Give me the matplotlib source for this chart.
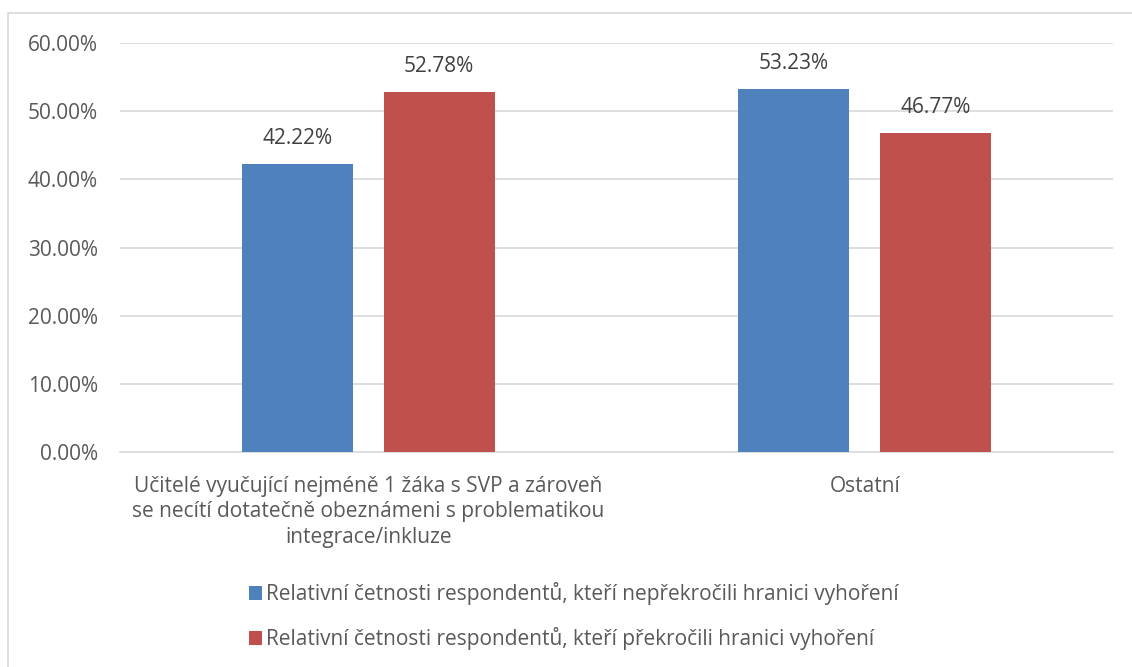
import matplotlib.pyplot as plt
from matplotlib.patches import Rectangle, Patch
from matplotlib.ticker import FuncFormatter

# data
categories = [
    "Učitelé vyučující nejméně 1 žáka s SVP a zároveň\nse necítí dotatečně obeznámeni s problematikou\nintegrace/inkluze",
    "Ostatní",
]
series_names = [
    "Relativní četnosti respondentů, kteří nepřekročili hranici vyhoření",
    "Relativní četnosti respondentů, kteří překročili hranici vyhoření",
]
not_exceeded = [42.22, 53.23]
exceeded = [52.78, 46.77]
colors = ["#4f81bd", "#c0504d"]

plt.rcParams['font.family'] = ['Open Sans', 'DejaVu Sans']

fig = plt.figure(figsize=(11.32, 6.67), dpi=100)
ax = fig.add_axes([120 / 1132, 1 - 452 / 667, 993 / 1132, 409 / 667 * 1.0])

# outer border like an Excel chart area
fig.patches.append(Rectangle((8 / 1132, -0.05), 1.1, 1 - 13 / 667 + 0.05,
                             transform=fig.transFigure, fill=False,
                             edgecolor="#d9d9d9", linewidth=1.2))

x = list(range(len(categories)))
width = 0.2236
offset = 0.143
b1 = ax.bar([i - offset for i in x], not_exceeded, width, color=colors[0], zorder=3)
b2 = ax.bar([i + offset for i in x], exceeded, width, color=colors[1], zorder=3)

for bars, vals in ((b1, not_exceeded), (b2, exceeded)):
    for rect, v in zip(bars, vals):
        ax.text(rect.get_x() + rect.get_width() / 2, v + 2.2, f"{v:.2f}%",
                ha='center', va='bottom', fontsize=15, color="#404040")

ax.set_xlim(-0.5, 1.5)
ax.set_ylim(0, 60)
ax.set_yticks(range(0, 61, 10))
ax.yaxis.set_major_formatter(FuncFormatter(lambda v, p: f"{v:.2f}%"))
ax.grid(axis='y', color="#d9d9d9", linewidth=1.2, zorder=0)
ax.set_xticks(x)
ax.set_xticklabels(categories, fontsize=15, color="#595959", linespacing=1.3)
ax.tick_params(axis='both', length=0, labelsize=15, labelcolor="#595959")
ax.tick_params(axis='x', pad=17)
ax.tick_params(axis='y', pad=16)
for s in ['top', 'right', 'left']:
    ax.spines[s].set_visible(False)
ax.spines['bottom'].set_color("#d9d9d9")
ax.spines['bottom'].set_linewidth(1.2)

handles = [Patch(facecolor=c, edgecolor='none') for c in colors]
fig.legend(handles, series_names, loc='center left',
           bbox_to_anchor=(230 / 1132, 1 - 616 / 667), frameon=False,
           fontsize=15, labelcolor="#595959", handlelength=0.65, handleheight=0.65,
           handletextpad=0.2, labelspacing=1.05)

fig.savefig("out.png", dpi=100)
